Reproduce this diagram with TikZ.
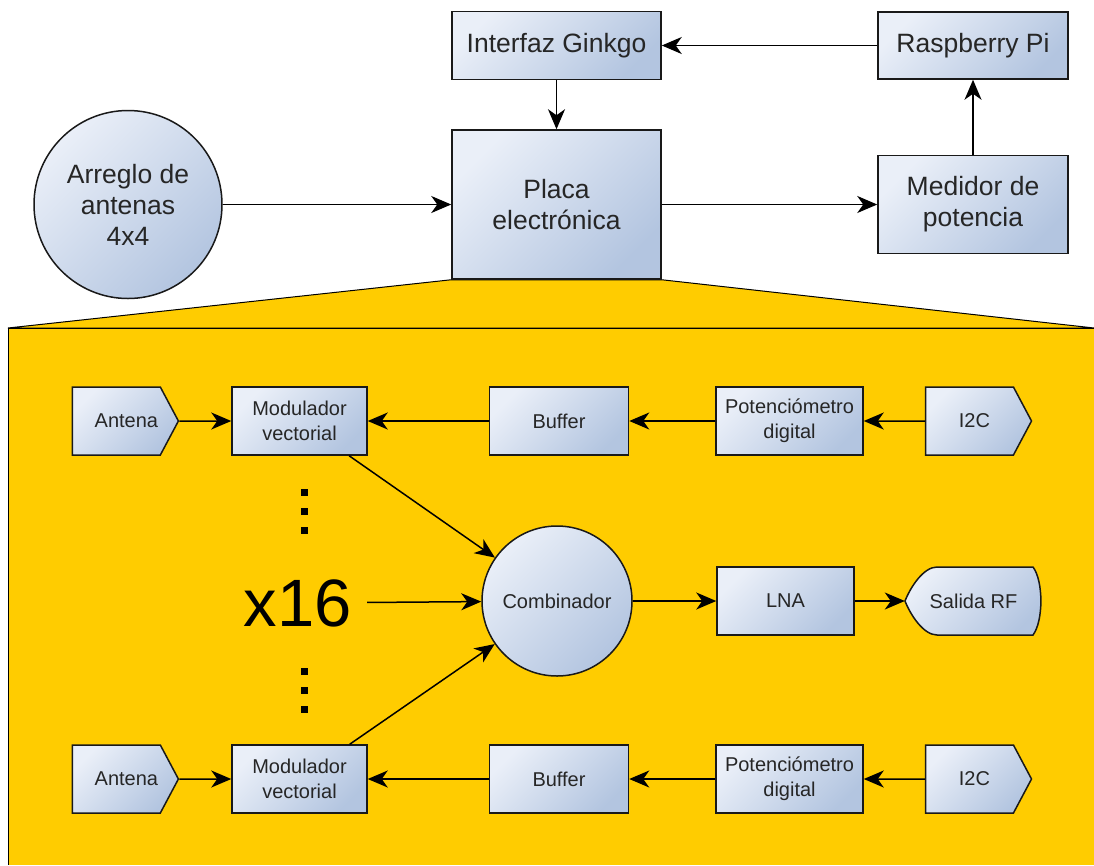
\documentclass[tikz,border=0pt]{standalone}
\usepackage{fontspec}
\setmainfont{Liberation Sans}
\usetikzlibrary{positioning,shapes.symbols,arrows.meta,backgrounds}

\definecolor{licht}{HTML}{EAEFF8}
\definecolor{donker}{HTML}{B3C5E0}
\definecolor{geel}{HTML}{FFCC00}

\tikzstyle{vul} = [top color=licht, bottom color=donker, shading angle=45]
\tikzstyle{blok} = [draw=black!90, line width=1.5pt, vul, rectangle, align=center, inner sep=0pt, text=black!85]
\tikzstyle{groot} = [blok, font=\fontsize{26.5}{31}\selectfont]
\tikzstyle{klein} = [blok, font=\fontsize{20}{25}\selectfont, minimum height=68pt]
\tikzstyle{vlag} = [klein, signal, signal to=east, signal pointer angle=124, minimum width=106pt]
\tikzstyle{pijl} = [-{Stealth[length=20pt,width=17pt,inset=6pt]}, line width=1.5pt]
\tikzstyle{punt} = [fill=black, minimum size=7pt, inner sep=0pt]
\tikzstyle{zone} = [fill=geel, draw=black, line width=1pt]

\begin{document}
\begin{tikzpicture}[x=1pt, y=-1pt]
\useasboundingbox (0,0) rectangle (1094,865);
%begin bovenkant
\node[groot, minimum width=209pt, minimum height=68pt] (ginkgo) at (556.5,45.5) {Interfaz Ginkgo};
\node[groot, minimum width=190pt, minimum height=67pt] (raspi) at (973,45.5) {Raspberry Pi};
\node[groot, minimum width=209pt, minimum height=149pt] (placa) at (556.5,204.5) {Placa\\electrónica};
\node[groot, minimum width=190pt, minimum height=98pt] (medidor) at (973,204.5) {Medidor de\\potencia};
\node[groot, circle, minimum size=188pt] (arreglo) at (128,204.5) {Arreglo de\\antenas\\4x4};

\draw[pijl] (raspi) -- (ginkgo);
\draw[pijl] (ginkgo) -- (placa);
\draw[pijl] (arreglo) -- (placa);
\draw[pijl] (placa) -- (medidor);
\draw[pijl] (medidor) -- (raspi);
%end bovenkant
%begin onderkant
%begin rij1
\node[klein, minimum width=135pt] (mod1) at (299.5,421) {Modulador\\vectorial};
\node[vlag] (ant1) [left=52pt of mod1] {\kern20pt Antena};
\node[klein, minimum width=139pt] (buf1) [right=121pt of mod1] {Buffer};
\node[klein, minimum width=147pt] (pot1) [right=86pt of buf1] {Potenciómetro\\digital};
\node[vlag] (i2c1) [right=61pt of pot1] {\kern10pt I2C};
%end rij1
%begin rij2
\node[klein, minimum width=135pt] (mod2) at (299.5,779) {Modulador\\vectorial};
\node[vlag] (ant2) [left=52pt of mod2] {\kern20pt Antena};
\node[klein, minimum width=139pt] (buf2) [right=121pt of mod2] {Buffer};
\node[klein, minimum width=147pt] (pot2) [right=86pt of buf2] {Potenciómetro\\digital};
\node[vlag] (i2c2) [right=61pt of pot2] {\kern10pt I2C};
%end rij2
%begin midden
\node[klein, circle, minimum size=150pt] (comb) at (557,601) {Combinador};
\node[klein, minimum width=137pt] (lna) at (785.5,601) {LNA};
\node[font=\fontsize{20}{25}\selectfont, text=black!85, minimum width=137pt, minimum height=68pt, inner sep=0pt] (salida) at (973.5,601) {Salida RF};
\node[font=\fontsize{67}{70}\selectfont, inner sep=15pt] (x16) at (298,603) {x16};
\node[punt] (p1) at (304,492) {};
\node[punt] (p2) at (304,511) {};
\node[punt] (p3) at (304,530) {};
\node[punt] (p4) at (304,671) {};
\node[punt] (p5) at (304,690) {};
\node[punt] (p6) at (304,709) {};
%end midden

\draw[pijl] (ant1) -- (mod1);
\draw[pijl] (buf1) -- (mod1);
\draw[pijl] (pot1) -- (buf1);
\draw[pijl] (i2c1) -- (pot1);
\draw[pijl] (ant2) -- (mod2);
\draw[pijl] (buf2) -- (mod2);
\draw[pijl] (pot2) -- (buf2);
\draw[pijl] (i2c2) -- (pot2);
\draw[pijl] (mod1) -- (comb);
\draw[pijl] (mod2) -- (comb);
\draw[pijl] (x16) -- (comb);
\draw[pijl] (comb) -- (lna);
\draw[pijl] (lna) -- (salida);
%end onderkant

\begin{scope}[on background layer]
%geel vlak
\draw[zone] (placa.south west) -- (placa.south east) -- (1094,328) -- (8,328) -- cycle;
\fill[geel] (8,328) rectangle (1094,865);
\draw[line width=1pt] (1094,328) -- (8,328) -- (8,865);
%salida rf
\begin{scope}[shift={(salida.center)}]
\draw[vul, draw=black!90, line width=1.5pt] (-36.5,-34) -- (59.5,-34) .. controls (70,-20) and (70,20) .. (59.5,34) -- (-36.5,34) .. controls (-50,34) and (-63,14) .. (-68.5,0) .. controls (-63,-14) and (-50,-34) .. (-36.5,-34) -- cycle;
\end{scope}
\end{scope}
\end{tikzpicture}
\end{document}
